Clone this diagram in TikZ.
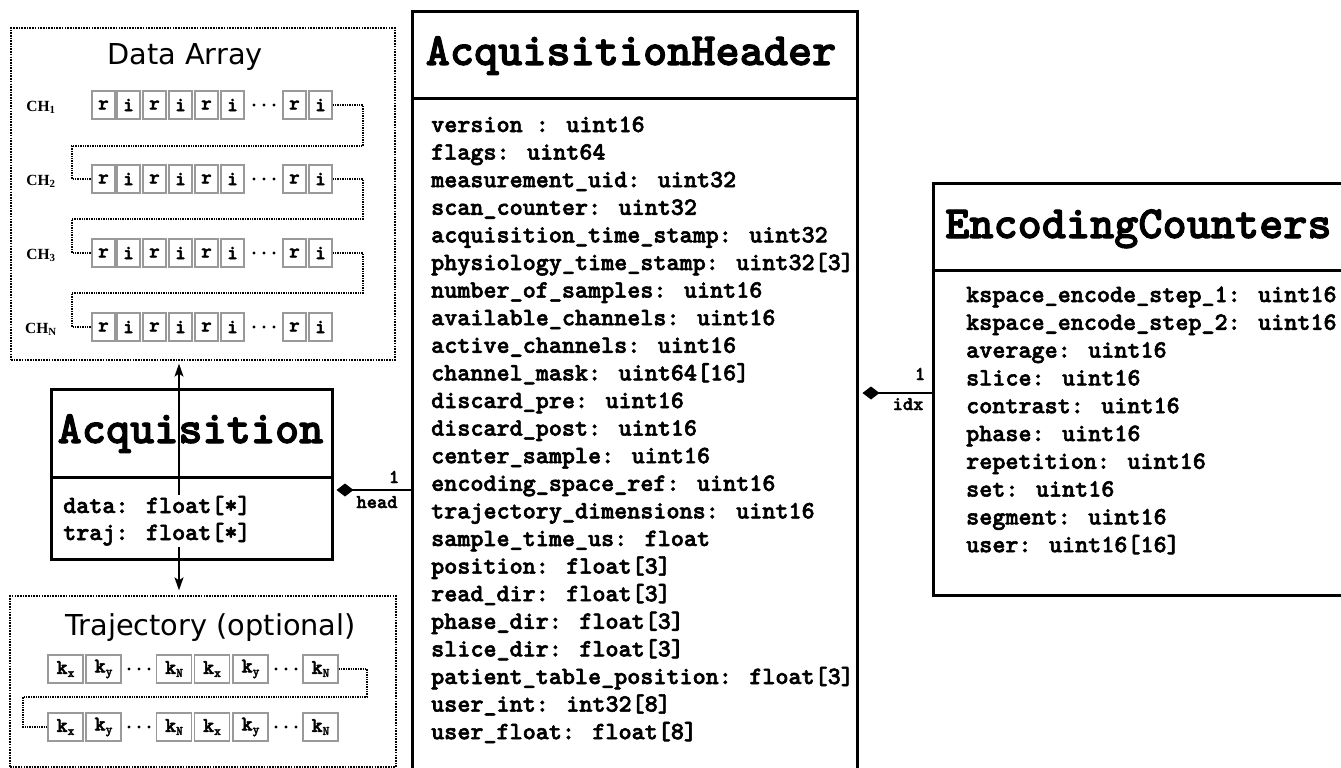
\documentclass[tikz,border=0pt]{standalone}
\usepackage{fontspec}
\newfontfamily\dejavu{DejaVu Sans}
\newfontfamily\serifch{Liberation Serif}
\newfontfamily\courb{lmmonolt10-bold.otf}[FakeBold=2.2]
\usetikzlibrary{arrows.meta}
\tikzset{
  classbox/.style={draw, line width=3pt, inner sep=0pt},
  classsep/.style={line width=3pt},
  dotbox/.style={draw, line width=1.3pt, dash pattern=on 1.6pt off 1.1pt, inner sep=0pt},
  cell/.style={draw=black!40, line width=1.2pt, minimum width=23pt, minimum height=28pt, inner sep=0pt,
    font=\courb\fontsize{20}{20}\selectfont},
  tcell/.style={cell, minimum width=35pt, font=\courb\fontsize{21}{21}\selectfont},
  chainline/.style={line width=1.3pt, dash pattern=on 1.4pt off 1pt},
  classtitle/.style={font=\courb\fontsize{46}{46}\selectfont, inner sep=0pt, anchor=base},
  bodytext/.style={font=\courb\fontsize{24.9}{27.6}\selectfont, inner sep=0pt, anchor=base west},
  smalllab/.style={font=\courb\fontsize{19.5}{19.5}\selectfont, inner sep=0pt, anchor=base},
  boxtitle/.style={font=\dejavu\fontsize{28.8}{30}\selectfont, inner sep=0pt, anchor=base},
  chlab/.style={font=\serifch\bfseries\fontsize{15.5}{15.5}\selectfont, inner sep=0pt, anchor=base},
  flow/.style={-{Stealth[length=13pt,width=9pt,inset=3pt]}, line width=1.5pt},
  assoc/.style={{Diamond[length=17pt,width=13pt]}-, line width=1.5pt},
}
\newcommand{\ksub}[1]{k\raisebox{-3pt}{\fontsize{13}{13}\selectfont #1}}
\begin{document}
\begin{tikzpicture}[x=1pt,y=-1pt]
\useasboundingbox (0,0) rectangle (1341,768);
\clip (0,0) rectangle (1341,768);
\fill[white] (0,0) rectangle (1341,768);

% ---------- Data Array ----------
\node[dotbox, minimum width=384pt, minimum height=332pt] (da) at (203,194) {};
\node[boxtitle] (datitle) at (185,65) {Data Array};
\foreach \yy/\lab [count=\r] in {105/1,179/2,253/3,327/N}{
  \node[chlab] (ch\r) at (41,\yy+6) {CH\textsubscript{\lab}};
  \foreach \xx/\t [count=\k] in {103.5/r,128.5/i,154.5/r,180.5/i,206.5/r,232.5/i,294.5/r,320.5/i}{
    \node[cell] (c\r-\k) at (\xx,\yy) {\t};
  }
  \foreach \dx in {254,264,274}{ \fill (\dx,\yy) circle (1.7pt); }
}
\coordinate (k1a) at (363,146); \coordinate (k1b) at (72,146);
\coordinate (k2a) at (363,219); \coordinate (k2b) at (72,219);
\coordinate (k3a) at (363,293); \coordinate (k3b) at (72,293);
\draw[chainline] (c1-8.east) -| (k1a) -- (k1b) |- (c2-1.west);
\draw[chainline] (c2-8.east) -| (k2a) -- (k2b) |- (c3-1.west);
\draw[chainline] (c3-8.east) -| (k3a) -- (k3b) |- (c4-1.west);

% ---------- Trajectory ----------
\node[dotbox, minimum width=386pt, minimum height=171pt] (tr) at (203,681.5) {};
\node[boxtitle] (trtitle) at (210.5,635) {Trajectory (optional)};
\foreach \yy [count=\r] in {669,727}{
  \foreach \xx/\t [count=\k] in {65.5/x,103.5/y,174/N,212/x,250.5/y,320.5/N}{
    \node[tcell] (t\r-\k) at (\xx,\yy) {\ksub{\t}};
  }
  \foreach \dx in {129,139,149,276,286,296}{ \fill (\dx,\yy) circle (1.7pt); }
}
\coordinate (tka) at (367,697); \coordinate (tkb) at (23,697);
\draw[chainline] (t1-6.east) -| (tka) -- (tkb) |- (t2-1.west);

% ---------- Acquisition ----------
\node[classbox, minimum width=281pt, minimum height=170pt] (acq) at (191.5,474) {};
\coordinate (acqsep) at (0,477);
\draw[classsep] (acq.west |- acqsep) -- (acq.east |- acqsep);
\node[classtitle] (acqtitle) at (190.5,443) {Acquisition};
\node[bodytext] (acq1) at (63,513) {data: float[*]};
\node[bodytext] (acq2) at (63,540) {traj: float[*]};
\coordinate (upstart) at (179,495);
\coordinate (downstart) at (179,547);
\draw[flow, shorten >=3pt] (upstart) -- (da.south -| upstart);
\draw[flow, shorten >=5pt] (downstart) -- (tr.north -| downstart);

% ---------- AcquisitionHeader ----------
\node[classbox, minimum width=445pt, minimum height=788pt] (ah) at (634.5,406) {};
\coordinate (ahsep) at (0,98);
\draw[classsep] (ah.west |- ahsep) -- (ah.east |- ahsep);
\node[classtitle] (ahtitle) at (631,65) {AcquisitionHeader};
\foreach \t [count=\i] in {
  version : uint16,
  flags: uint64,
  measurement\_uid: uint32,
  scan\_counter: uint32,
  acquisition\_time\_stamp: uint32,
  physiology\_time\_stamp: uint32[3],
  number\_of\_samples: uint16,
  available\_channels: uint16,
  active\_channels: uint16,
  channel\_mask: uint64[16],
  discard\_pre: uint16,
  discard\_post: uint16,
  center\_sample: uint16,
  encoding\_space\_ref: uint16,
  trajectory\_dimensions: uint16,
  sample\_time\_us: float,
  position: float[3],
  read\_dir: float[3],
  phase\_dir: float[3],
  slice\_dir: float[3],
  patient\_table\_position: float[3],
  user\_int: int32[8],
  user\_float: float[8]}{
  \node[bodytext] (ahl\i) at (431,{132+27.6*(\i-1)}) {\t};
}

% ---------- EncodingCounters ----------
\node[classbox, minimum width=427pt, minimum height=412pt] (ec) at (1146.5,389) {};
\coordinate (ecsep) at (0,270);
\draw[classsep] (ec.west |- ecsep) -- (ec.east |- ecsep);
\node[classtitle, anchor=base west] (ectitle) at (945,238) {EncodingCounters};
\foreach \t [count=\i] in {
  kspace\_encode\_step\_1: uint16,
  kspace\_encode\_step\_2: uint16,
  average: uint16,
  slice: uint16,
  contrast: uint16,
  phase: uint16,
  repetition: uint16,
  set: uint16,
  segment: uint16,
  user: uint16[16]}{
  \node[bodytext] (ecl\i) at (966,{302+27.8*(\i-1)}) {\t};
}

% ---------- associations ----------
\coordinate (hy) at (0,490);
\draw[assoc] ([xshift=3pt]acq.east |- hy) -- (ah.west |- hy);
\node[smalllab] (head1) at (394,483) {1};
\node[smalllab] (headlab) at (377,508) {head};
\coordinate (iy) at (0,393);
\draw[assoc] ([xshift=4pt]ah.east |- iy) -- (ec.west |- iy);
\node[smalllab] (idx1) at (920,380) {1};
\node[smalllab] (idxlab) at (908,410) {idx};
\end{tikzpicture}
\end{document}
